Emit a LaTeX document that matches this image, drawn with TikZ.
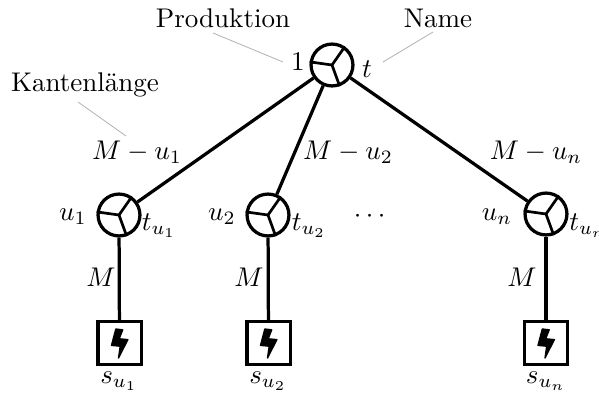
\documentclass[tikz,border=0pt]{standalone}
\usepackage{amsmath}
\usetikzlibrary{positioning}
\tikzset{
    gate/.style = {draw, circle, line width=1.2pt, minimum size=15.5pt, inner sep=0pt},
    source/.style = {draw, rectangle, line width=1.2pt, minimum size=16pt, inner sep=0pt},
    edge/.style = {draw, line width=1.2pt},
    note/.style = {draw, gray!60, line width=0.3pt},
    lbl/.style = {inner sep=0pt}
}
\begin{document}
\begin{tikzpicture}[x=0.37pt,y=-0.37pt]
    \useasboundingbox (0,0) rectangle (599,397);
    \node [gate] (root) at (332,65) {};
    \node [gate] (gate1) at (119,215) {};
    \node [gate] (gate2) at (268,215) {};
    \node [gate] (gaten) at (546,214) {};
    \node [source] (src1) at (119.5,343) {};
    \node [source] (src2) at (268.5,343) {};
    \node [source] (srcn) at (546,343) {};
    \draw [edge] (root) -- (gate1);
    \draw [edge] (root) -- (gate2);
    \draw [edge] (root) -- (gaten);
    \draw [edge] (gate1) -- (src1);
    \draw [edge] (gate2) -- (src2);
    \draw [edge] (gaten) -- (srcn);
    % spokes
    \foreach \g in {root,gate1,gate2,gaten} {
        \draw [line width=1pt] (\g.center) -- (\g.55);
        \draw [line width=1pt] (\g.center) -- (\g.172);
        \draw [line width=1pt] (\g.center) -- (\g.-70);
    }
    % bolts
    \foreach \s in {src1,src2,srcn} {
        \filldraw [shift={(\s.center)}, line width=0.5pt, line join=round] (-3.7,-14) -- (3.2,-13.2) -- (-0.3,-4.2) -- (8.4,-3.4) -- (-1,15) -- (0.7,3.2) -- (-8,2.4) -- cycle;
    }
    % labels
    \node [lbl] (prod) at (223,18) {Produktion};
    \node [lbl] (name) at (438,18) {Name};
    \node [lbl] (kante) at (85,85) {Kantenl\"ange};
    \node [lbl] (one) at (298,62) {$1$};
    \node [lbl] (tt) at (367,69) {$t$};
    \node [lbl] (e1) at (137,152) {$M-u_1$};
    \node [lbl] (e2) at (348,152) {$M-u_2$};
    \node [lbl] (en) at (536,152) {$M-u_n$};
    \node [lbl] (u1) at (73,217) {$u_1$};
    \node [lbl] (u2) at (222,217) {$u_2$};
    \node [lbl] (un) at (497,217) {$u_n$};
    \node [lbl] (t1) at (159,226) {$t_{u_1}$};
    \node [lbl] (t2) at (309,226) {$t_{u_2}$};
    \node [lbl] (tn) at (588,226) {$t_{u_n}$};
    \node [lbl] (dots) at (372,216) {$\cdots$};
    \node [lbl] (m1) at (101,277) {$M$};
    \node [lbl] (m2) at (249,277) {$M$};
    \node [lbl] (mn) at (522,277) {$M$};
    \node [lbl] (s1) at (119,381) {$s_{u_1}$};
    \node [lbl] (s2) at (268,381) {$s_{u_2}$};
    \node [lbl] (sn) at (546,381) {$s_{u_n}$};
    % grey hints
    \coordinate (prodstart) at (213,33);
    \coordinate (prodend) at (283,62);
    \coordinate (namestart) at (433,32);
    \coordinate (nameend) at (383,62);
    \coordinate (kantestart) at (78,102);
    \coordinate (kanteend) at (126,136);
    \draw [note] (prodstart) -- (prodend);
    \draw [note] (namestart) -- (nameend);
    \draw [note] (kantestart) -- (kanteend);
\end{tikzpicture}
\end{document}
